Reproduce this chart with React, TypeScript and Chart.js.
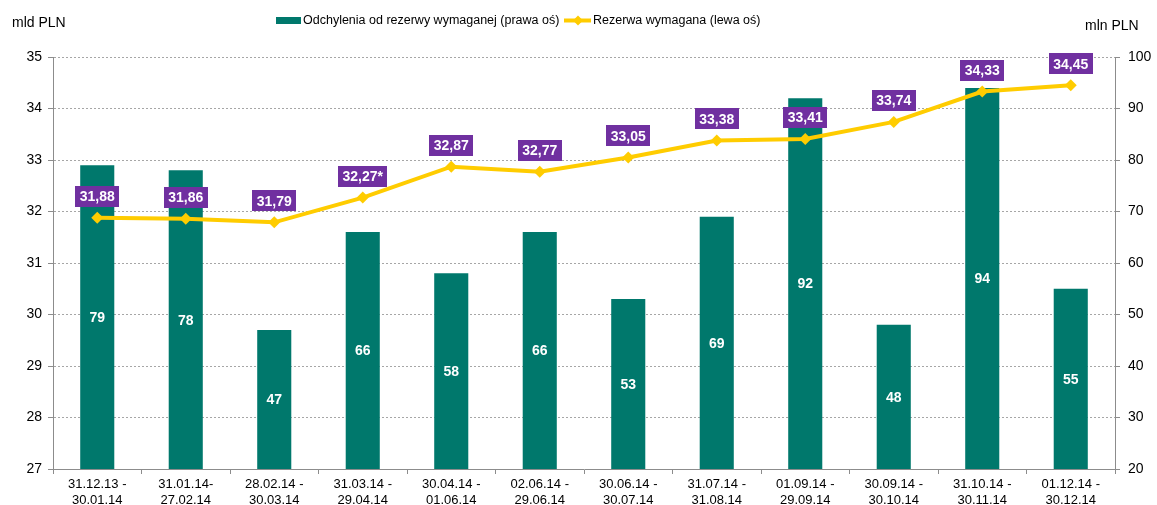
import React, { useEffect, useRef } from "react";
import { Chart, registerables } from "chart.js";

Chart.register(...registerables);

const categories: string[][] = [
  ["31.12.13 -", "30.01.14"],
  ["31.01.14-", "27.02.14"],
  ["28.02.14 -", "30.03.14"],
  ["31.03.14 -", "29.04.14"],
  ["30.04.14 -", "01.06.14"],
  ["02.06.14 -", "29.06.14"],
  ["30.06.14 -", "30.07.14"],
  ["31.07.14 -", "31.08.14"],
  ["01.09.14 -", "29.09.14"],
  ["30.09.14 -", "30.10.14"],
  ["31.10.14 -", "30.11.14"],
  ["01.12.14 -", "30.12.14"],
];
const deviations: number[] = [79, 78, 47, 66, 58, 66, 53, 69, 92, 48, 94, 55];
const required: number[] = [31.88, 31.86, 31.79, 32.27, 32.87, 32.77, 33.05, 33.38, 33.41, 33.74, 34.33, 34.45];
const requiredLabels: string[] = ["31,88", "31,86", "31,79", "32,27*", "32,87", "32,77", "33,05", "33,38", "33,41", "33,74", "34,33", "34,45"];
const barSeriesName = "Odchylenia od rezerwy wymaganej (prawa oś)";
const lineSeriesName = "Rezerwa wymagana (lewa oś)";
const leftTitle = "mld PLN";
const rightTitle = "mln PLN";

const GREEN = "#00786C";
const YELLOW = "#FFCC00";
const PURPLE = "#7030A0";
const FONT = "'Liberation Sans', Arial, sans-serif";

const labelsPlugin = {
  id: "customLabels",
  afterDatasetsDraw(chart: any) {
    const ctx = chart.ctx;
    const area = chart.chartArea;
    ctx.save();
    const barMeta = chart.getDatasetMeta(0);
    ctx.font = `bold 14px ${FONT}`;
    ctx.textAlign = "center";
    ctx.textBaseline = "middle";
    ctx.fillStyle = "#FFFFFF";
    barMeta.data.forEach((el: any, i: number) => {
      const base = Math.min(el.base, area.bottom);
      const cy = (el.y + base) / 2;
      ctx.fillText(String(deviations[i]), el.x, cy + 1);
    });
    const lineMeta = chart.getDatasetMeta(1);
    lineMeta.data.forEach((el: any, i: number) => {
      const txt = requiredLabels[i];
      const w = ctx.measureText(txt).width + 9;
      const h = 21;
      const cy = el.y - 21.5;
      ctx.fillStyle = PURPLE;
      ctx.fillRect(Math.round(el.x - w / 2), Math.round(cy - h / 2), Math.round(w), h);
      ctx.fillStyle = "#FFFFFF";
      ctx.fillText(txt, el.x, cy + 1);
    });
    ctx.restore();
  },
  afterDraw(chart: any) {
    const ctx = chart.ctx;
    ctx.save();
    ctx.font = `12.5px ${FONT}`;
    ctx.textBaseline = "middle";
    ctx.textAlign = "left";
    // legend
    ctx.fillStyle = GREEN;
    ctx.fillRect(276, 17, 25, 7);
    ctx.fillStyle = "#000000";
    ctx.fillText(barSeriesName, 303, 21);
    ctx.strokeStyle = YELLOW;
    ctx.lineWidth = 4;
    ctx.beginPath();
    ctx.moveTo(564, 20.5);
    ctx.lineTo(591, 20.5);
    ctx.stroke();
    ctx.fillStyle = YELLOW;
    ctx.beginPath();
    ctx.moveTo(578, 15.5);
    ctx.lineTo(583, 20.5);
    ctx.lineTo(578, 25.5);
    ctx.lineTo(573, 20.5);
    ctx.closePath();
    ctx.fill();
    ctx.fillStyle = "#000000";
    ctx.fillText(lineSeriesName, 593, 21);
    // axis titles
    ctx.font = `14px ${FONT}`;
    ctx.fillText(leftTitle, 12, 23);
    ctx.fillText(rightTitle, 1085, 26);
    ctx.restore();
  },
};

export default function App() {
  const canvasRef = useRef<HTMLCanvasElement | null>(null);

  useEffect(() => {
    if (!canvasRef.current) return;
    const chart = new Chart(canvasRef.current, {
      type: "bar",
      data: {
        labels: categories,
        datasets: [
          {
            type: "bar",
            label: barSeriesName,
            data: deviations,
            backgroundColor: GREEN,
            borderWidth: 0,
            barPercentage: 0.385,
            categoryPercentage: 1,
            yAxisID: "y1",
            order: 1,
          },
          {
            type: "line",
            label: lineSeriesName,
            data: required,
            borderColor: YELLOW,
            backgroundColor: YELLOW,
            borderWidth: 4,
            pointStyle: "rectRot",
            pointRadius: 6,
            pointBackgroundColor: YELLOW,
            pointBorderColor: YELLOW,
            pointBorderWidth: 0,
            tension: 0,
            yAxisID: "y",
            order: 0,
          },
        ],
      },
      options: {
        animation: false,
        responsive: true,
        maintainAspectRatio: false,
        layout: { padding: { top: 57, left: 0, right: 0, bottom: 0 } },
        plugins: {
          legend: { display: false },
          tooltip: { enabled: false },
        },
        scales: {
          x: {
            offset: true,
            grid: {
              offset: true,
              drawOnChartArea: false,
              drawTicks: true,
              tickLength: 5,
              color: "#8C8C8C",
            },
            border: { display: true, color: "#8C8C8C", width: 1 },
            ticks: {
              maxRotation: 0,
              minRotation: 0,
              autoSkip: false,
              padding: 3,
              color: "#000000",
              font: { family: FONT, size: 13, lineHeight: 1.2 },
            },
            afterFit: (scale: any) => {
              scale.height = 36;
            },
          },
          y: {
            position: "left",
            min: 27,
            max: 35,
            ticks: {
              stepSize: 1,
              padding: 6,
              color: "#000000",
              font: { family: FONT, size: 14 },
            },
            grid: {
              color: "#A6A6A6",
              tickColor: "#8C8C8C",
              tickLength: 5,
              tickBorderDash: [],
              lineWidth: 1,
            },
            border: { display: true, color: "#8C8C8C", dash: [2, 2] },
            afterFit: (scale: any) => {
              scale.width = 53;
            },
          },
          y1: {
            position: "right",
            min: 20,
            max: 100,
            ticks: {
              stepSize: 10,
              padding: 8,
              color: "#000000",
              font: { family: FONT, size: 14 },
            },
            grid: {
              drawOnChartArea: false,
              tickColor: "#8C8C8C",
              tickLength: 5,
            },
            border: { display: true, color: "#8C8C8C" },
            afterFit: (scale: any) => {
              scale.width = 42;
            },
          },
        },
      },
      plugins: [labelsPlugin],
    } as any);
    return () => chart.destroy();
  }, []);

  return (
    <div style={{ position: "fixed", left: 0, top: 0, width: 1157, height: 505, background: "#FFFFFF" }}>
      <canvas ref={canvasRef} />
    </div>
  );
}
